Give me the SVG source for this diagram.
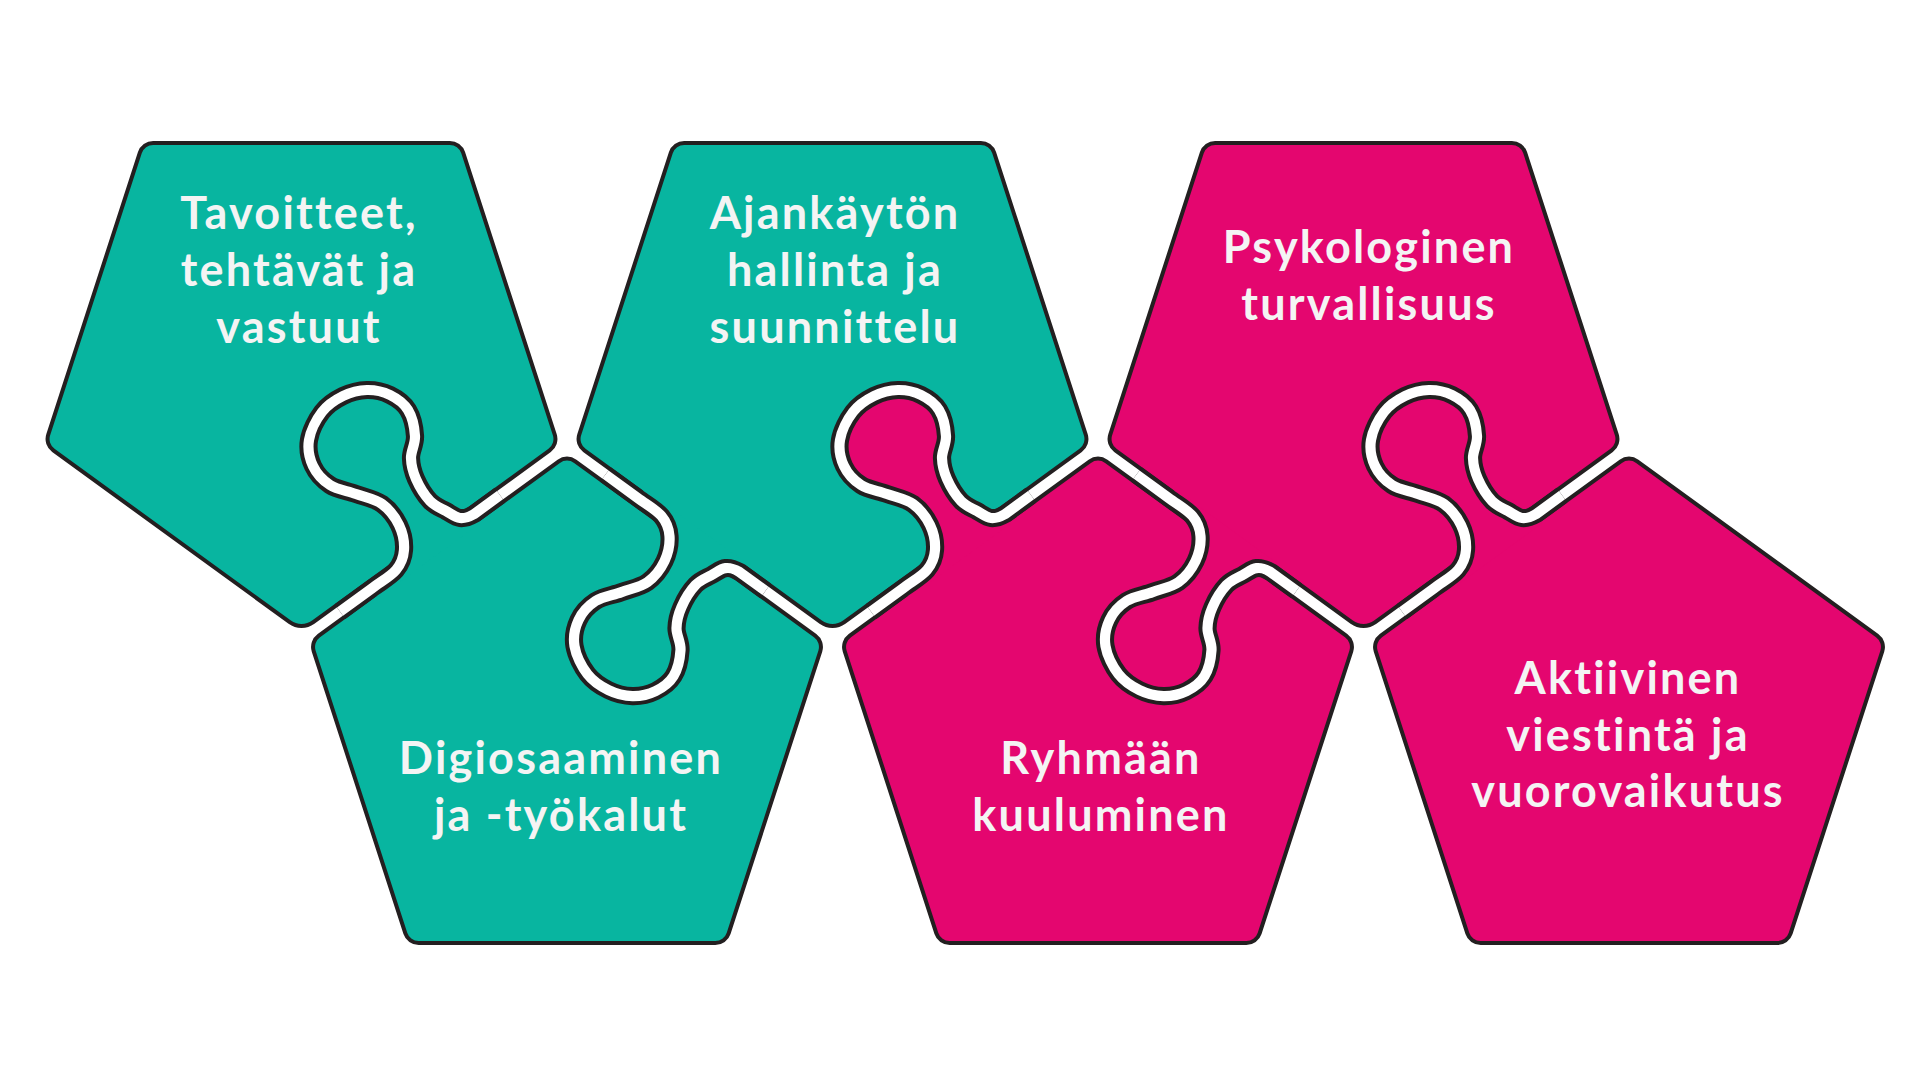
<svg xmlns="http://www.w3.org/2000/svg" width="1929" height="1080" viewBox="0 0 1929 1080">
<style>
.teal{fill:#08b5a0}
.pink{fill:#e4066f}
.piece{stroke:#231f20;stroke-width:4;stroke-linejoin:round}
.lbl{font-family:Lato,"Liberation Sans",sans-serif;font-weight:700;font-size:45px;fill:#f4f4f4;text-anchor:middle;letter-spacing:2.2px}
.cutB{fill:none;stroke:#231f20;stroke-width:18.2}
.cutW{fill:none;stroke:#ffffff;stroke-width:10.2}
</style>
<defs>
<path id="pentDown" d="M-148.3,-218.1 L148.3,-218.1 A14,14 0 0 1 161.65,-208.4 L253.25,73.6 A14,14 0 0 1 248.15,89.3 L11.76,261.06 A20,20 0 0 1 -11.76,261.06 L-248.15,89.3 A14,14 0 0 1 -253.25,73.6 L-161.65,-208.4 A14,14 0 0 1 -148.3,-218.1 Z"/>
<path id="pentUp" d="M8.25,-263.6 L248.15,-89.3 A14,14 0 0 1 253.25,-73.6 L161.65,208.4 A14,14 0 0 1 148.3,218.1 L-148.3,218.1 A14,14 0 0 1 -161.65,208.4 L-253.25,-73.6 A14,14 0 0 1 -248.15,-89.3 L-8.25,-263.6 A14,14 0 0 1 8.25,-263.6 Z"/>
<path id="knob" d="M500,495.2 L474,514.1 C467.33,517.9 464.67,518.52 460,518 C455.33,517.48 451,513.83 446,511 C441,508.17 435,506.33 430,501 C425,495.67 419.17,486.17 416,479 C412.83,471.83 411.17,465.17 411,458 C410.83,450.83 415.5,444 415,436 C414.5,428 412.17,416.83 408,410 C403.83,403.17 396.83,398.33 390,395 C383.17,391.67 374.83,389.83 367,390 C359.17,390.17 350.5,392.33 343,396 C335.5,399.67 327.67,404.67 322,412 C316.33,419.33 310.5,431 309,440 C307.5,449 309.5,458.5 313,466 C316.5,473.5 322.83,480.33 330,485 C337.17,489.67 347.33,490.83 356,494 C364.67,497.17 374.83,498.83 382,504 C389.17,509.17 395.33,517.33 399,525 C402.67,532.67 404.5,542.5 404,550 C403.5,557.5 401.33,563.62 396,570 C390.67,576.38 381.33,581.37 372,588.3 L340,611.6"/>
<path id="tab" d="M474,514.1 C467.33,517.9 464.67,518.52 460,518 C455.33,517.48 451,513.83 446,511 C441,508.17 435,506.33 430,501 C425,495.67 419.17,486.17 416,479 C412.83,471.83 411.17,465.17 411,458 C410.83,450.83 415.5,444 415,436 C414.5,428 412.17,416.83 408,410 C403.83,403.17 396.83,398.33 390,395 C383.17,391.67 374.83,389.83 367,390 C359.17,390.17 350.5,392.33 343,396 C335.5,399.67 327.67,404.67 322,412 C316.33,419.33 310.5,431 309,440 C307.5,449 309.5,458.5 313,466 C316.5,473.5 322.83,480.33 330,485 C337.17,489.67 347.33,490.83 356,494 C364.67,497.17 374.83,498.83 382,504 C389.17,509.17 395.33,517.33 399,525 C402.67,532.67 404.5,542.5 404,550 C403.5,557.5 401.33,563.62 396,570 C390.67,576.38 381.33,581.37 372,588.3 L378.5,597.2 L480.5,523 Z"/>
</defs>
<rect width="1929" height="1080" fill="#ffffff"/>

<g id="node-tavoitteet">
<use href="#pentDown" class="piece teal" transform="translate(301.5,361.1)"/>
<text class="lbl"><tspan x="299" y="229">Tavoitteet,</tspan><tspan x="299" y="286">tehtävät ja</tspan><tspan x="299" y="343">vastuut</tspan></text>
</g>
<g id="node-digiosaaminen">
<use href="#pentUp" class="piece teal" transform="translate(567,724.9)"/>
<text class="lbl"><tspan x="561" y="774">Digiosaaminen</tspan><tspan x="561" y="831">ja -työkalut</tspan></text>
</g>
<g id="node-ajankaytto">
<use href="#pentDown" class="piece teal" transform="translate(832.5,361.1)"/>
<text class="lbl"><tspan x="835" y="229">Ajankäytön</tspan><tspan x="835" y="286">hallinta ja</tspan><tspan x="835" y="343">suunnittelu</tspan></text>
</g>
<g id="node-ryhmaan">
<use href="#pentUp" class="piece pink" transform="translate(1098,724.9)"/>
<text class="lbl"><tspan x="1101" y="774">Ryhmään</tspan><tspan x="1101" y="831">kuuluminen</tspan></text>
</g>
<g id="node-psykologinen">
<use href="#pentDown" class="piece pink" transform="translate(1363.5,361.1)"/>
<text class="lbl"><tspan x="1369" y="263">Psykologinen</tspan><tspan x="1369" y="320">turvallisuus</tspan></text>
</g>
<g id="node-aktiivinen">
<use href="#pentUp" class="piece pink" transform="translate(1629,724.9)"/>
<text class="lbl"><tspan x="1628" y="694">Aktiivinen</tspan><tspan x="1628" y="751">viestintä ja</tspan><tspan x="1628" y="807">vuorovaikutus</tspan></text>
</g>

<g id="connectors">
<g id="joint-1-2">
<use href="#tab" class="teal"/>
<use href="#knob" class="cutB"/>
<use href="#knob" class="cutW"/>
</g>
<g id="joint-2-3" transform="matrix(1,0,0,-1,265.5,1086.1)">
<use href="#tab" class="teal"/>
<use href="#knob" class="cutB"/>
<use href="#knob" class="cutW"/>
</g>
<g id="joint-3-4" transform="translate(531,0)">
<use href="#tab" class="pink"/>
<use href="#knob" class="cutB"/>
<use href="#knob" class="cutW"/>
</g>
<g id="joint-4-5" transform="matrix(1,0,0,-1,796.5,1086.1)">
<use href="#tab" class="pink"/>
<use href="#knob" class="cutB"/>
<use href="#knob" class="cutW"/>
</g>
<g id="joint-5-6" transform="translate(1062,0)">
<use href="#tab" class="pink"/>
<use href="#knob" class="cutB"/>
<use href="#knob" class="cutW"/>
</g>
</g>
</svg>
